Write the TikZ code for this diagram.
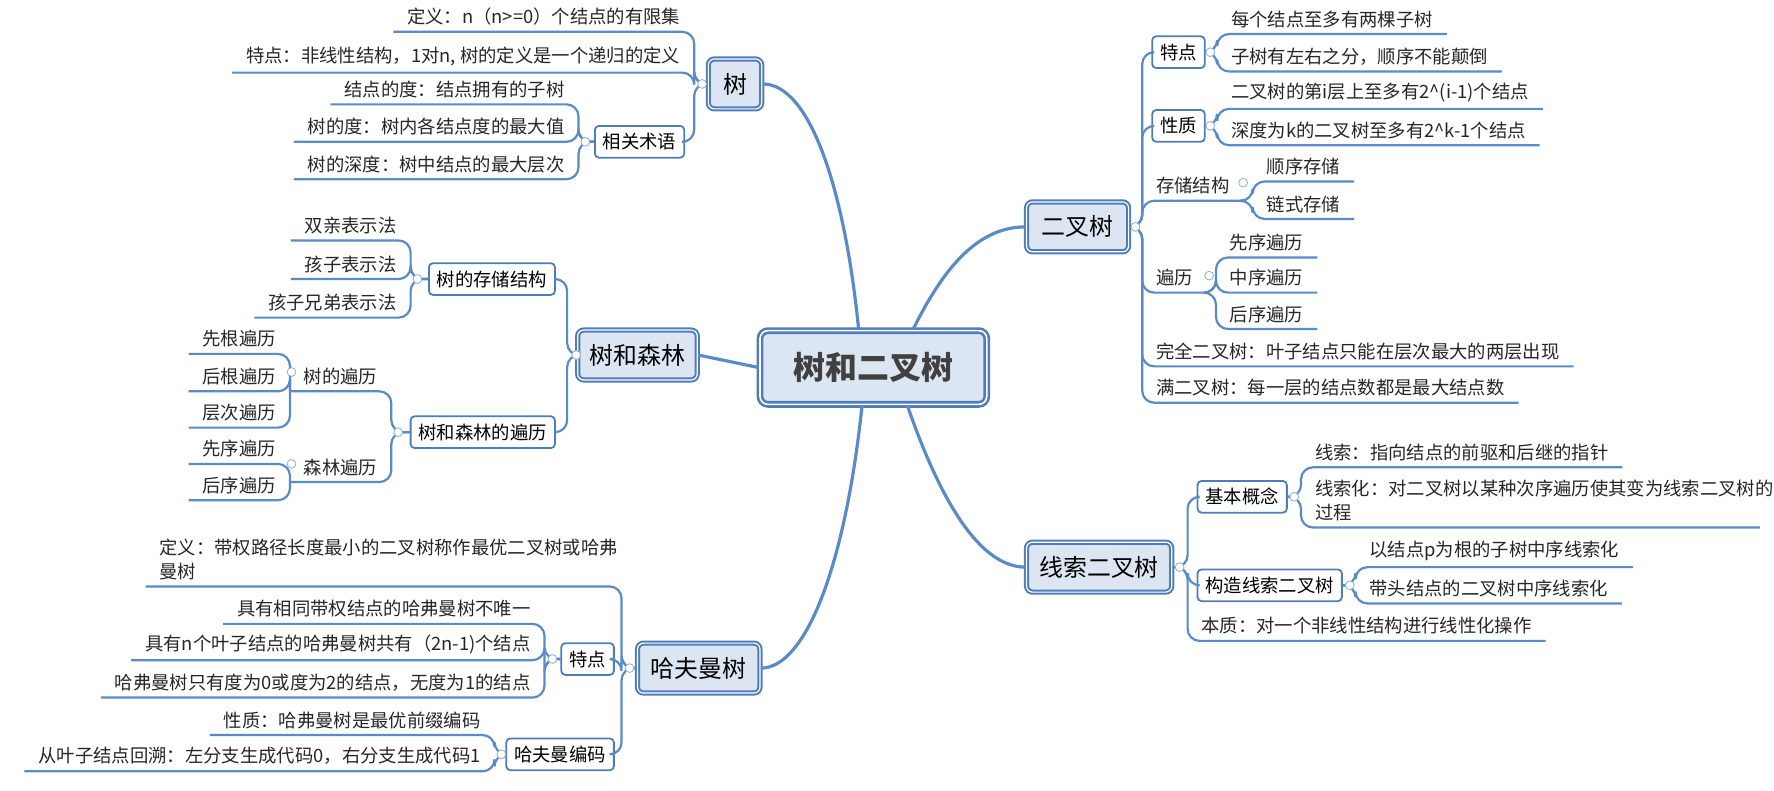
\documentclass[tikz,border=0pt]{standalone}
\usepackage{fontspec}
\setmainfont{Noto Sans CJK SC}
\usetikzlibrary{calc}
\definecolor{linecol}{HTML}{5B8BC6}
\definecolor{boxfill}{HTML}{DCE6F2}
\definecolor{boxline}{HTML}{4F7DBA}
\tikzstyle{rootbox} = [rectangle,
rounded corners=4pt,
draw=boxline, line width=1.3pt,
double=white, double distance=0.8pt,
fill=boxfill,
minimum width=4cm,
minimum height=1.3cm,
font=\fontsize{16}{19}\selectfont\bfseries,
text=black!75]
\tikzstyle{topicbox} = [rectangle,
rounded corners=3pt,
draw=boxline, line width=1pt,
double=white, double distance=0.6pt,
fill=boxfill,
minimum height=0.88cm,
inner xsep=6pt,
font=\fontsize{12}{14}\selectfont]
\tikzstyle{subbox} = [rectangle,
rounded corners=2pt,
draw=boxline, line width=0.9pt,
fill=white,
minimum height=0.56cm,
inner xsep=4pt,
font=\fontsize{9.2}{11}\selectfont]
\tikzstyle{leafnode} = [inner xsep=0.24cm, inner ysep=3pt,
font=\fontsize{9.2}{12}\selectfont, text=black!85]
\tikzstyle{link} = [draw=linecol, line width=1.1pt, rounded corners=6pt]
\tikzstyle{trunk} = [draw=linecol, line width=1.6pt]
\tikzstyle{foldmark} = [draw=linecol!70, fill=white, line width=0.4pt]

\begin{document}
\begin{tikzpicture}[x=0.02cm, y=-0.02cm]
\useasboundingbox (0,0) rectangle (1564,697);

\node (root) [rootbox] at (770,324) {树和二叉树};

\node (tree) [topicbox, minimum width=0.94cm] at (648,74) {树};
\node (forest) [topicbox, minimum width=1.9cm] at (562,313) {树和森林};
\node (huff) [topicbox, minimum width=2.16cm] at (616,589) {哈夫曼树};
\node (bt) [topicbox, minimum width=1.8cm] at (950,200) {二叉树};
\node (thr) [topicbox, minimum width=2.56cm] at (969,500) {线索二叉树};

\draw [trunk] ($(root.north)+(-13,0)$) .. controls (745,170) and (715,74) .. (tree.east);
\draw [trunk] (root.west) -- (forest.east);
\draw [trunk] ($(root.south)+(-10,0)$) .. controls (745,500) and (710,589) .. (huff.east);
\draw [trunk] ($(root.north)+(35,0)$) .. controls (830,240) and (860,200) .. (bt.west);
\draw [trunk] ($(root.south)+(30,0)$) .. controls (825,430) and (860,500) .. (thr.west);

% 树
\node (t_def) [leafnode, anchor=south east] at (612,28) {定义：n（n>=0）个结点的有限集};
\node (t_feat) [leafnode, anchor=south east] at (612,64) {特点：非线性结构，1对n, 树的定义是一个递归的定义};
\node (t_term) [subbox, anchor=east] at (604,125) {相关术语};
\node (t_deg) [leafnode, anchor=south east] at (510,92) {结点的度：结点拥有的子树};
\node (t_tdeg) [leafnode, anchor=south east] at (510,125) {树的度：树内各结点度的最大值};
\node (t_depth) [leafnode, anchor=south east] at (510,158) {树的深度：树中结点的最大层次};
\draw [link] (tree.west) -| (t_def.south east) -- (t_def.south west);
\draw [link] (tree.west) -| (t_feat.south east) -- (t_feat.south west);
\draw [link] (tree.west) -| ($(t_term.east)+(8,0)$) -- (t_term.east);
\foreach \n in {t_deg, t_tdeg, t_depth}
  \draw [link] (t_term.west) -| (\n.south east) -- (\n.south west);

% 树和森林
\node (f_store) [subbox, anchor=east] at (490,246) {树的存储结构};
\node (f_par) [leafnode, anchor=south east] at (362,212) {双亲表示法};
\node (f_child) [leafnode, anchor=south east] at (362,246) {孩子表示法};
\node (f_sib) [leafnode, anchor=south east] at (362,280) {孩子兄弟表示法};
\draw [link] (forest.west) -| ($(f_store.east)+(10,0)$) -- (f_store.east);
\foreach \n in {f_par, f_child, f_sib}
  \draw [link] (f_store.west) -| (\n.south east) -- (\n.south west);

\node (f_trav) [subbox, anchor=east] at (490,381) {树和森林的遍历};
\node (f_ttrav) [leafnode, anchor=south east] at (345,345) {树的遍历};
\node (f_ftrav) [leafnode, anchor=south east] at (345,425) {森林遍历};
\draw [link] (forest.west) -| ($(f_trav.east)+(10,0)$) -- (f_trav.east);
\foreach \n in {f_ttrav, f_ftrav}
  \draw [link] (f_trav.west) -| (\n.south east) -- (\n.south west);
\node (f_pre) [leafnode, anchor=south east] at (f_ttrav.south west |- 0,312) {先根遍历};
\node (f_post) [leafnode, anchor=south east] at (f_ttrav.south west |- 0,345) {后根遍历};
\node (f_lvl) [leafnode, anchor=south east] at (f_ttrav.south west |- 0,377) {层次遍历};
\foreach \n in {f_pre, f_post, f_lvl}
  \draw [link] (f_ttrav.south west) |- (\n.south west);
\node (f_fpre) [leafnode, anchor=south east] at (f_ftrav.south west |- 0,409) {先序遍历};
\node (f_fpost) [leafnode, anchor=south east] at (f_ftrav.south west |- 0,441) {后序遍历};
\foreach \n in {f_fpre, f_fpost}
  \draw [link] (f_ftrav.south west) |- (\n.south west);

% 哈夫曼树
\node (h_def) [leafnode, anchor=south east, text width=7.9cm, align=left] at (548,517) {定义：带权路径长度最小的二叉树称作最优二叉树或哈弗\\曼树};
\node (h_feat) [subbox, anchor=east] at (542,581) {特点};
\node (h_uniq) [leafnode, anchor=south east] at (480,550) {具有相同带权结点的哈弗曼树不唯一};
\node (h_num) [leafnode, anchor=south east] at (480,582) {具有n个叶子结点的哈弗曼树共有（2n-1)个结点};
\node (h_deg) [leafnode, anchor=south east] at (480,615) {哈弗曼树只有度为0或度为2的结点，无度为1的结点};
\node (h_code) [subbox, anchor=east] at (542,665) {哈夫曼编码};
\node (h_prop) [leafnode, anchor=south east] at (436,648) {性质：哈弗曼树是最优前缀编码};
\node (h_back) [leafnode, anchor=south east] at (436,680) {从叶子结点回溯：左分支生成代码0，右分支生成代码1};
\draw [link] (huff.west) -| (h_def.south east) -- (h_def.south west);
\draw [link] (huff.west) -| ($(h_feat.east)+(6,0)$) -- (h_feat.east);
\draw [link] (huff.west) -| ($(h_code.east)+(6,0)$) -- (h_code.east);
\foreach \n in {h_uniq, h_num, h_deg}
  \draw [link] (h_feat.west) -| (\n.south east) -- (\n.south west);
\foreach \n in {h_prop, h_back}
  \draw [link] (h_code.west) -| (\n.south east) -- (\n.south west);

% 二叉树
\node (b_feat) [subbox, anchor=west] at (1015,46) {特点};
\node (b_two) [leafnode, anchor=south west] at (1073,30) {每个结点至多有两棵子树};
\node (b_ord) [leafnode, anchor=south west] at (1073,63) {子树有左右之分，顺序不能颠倒};
\node (b_prop) [subbox, anchor=west] at (1015,111) {性质};
\node (b_lvl) [leafnode, anchor=south west] at (1073,96) {二叉树的第i层上至多有2\^{}(i-1)个结点};
\node (b_dep) [leafnode, anchor=south west] at (1073,128) {深度为k的二叉树至多有2\^{}k-1个结点};
\node (b_store) [leafnode, anchor=south west] at (1007,177) {存储结构};
\node (b_seq) [leafnode, anchor=south west] at ($(b_store.south east |- 0,160)+(8,0)$) {顺序存储};
\node (b_lnk) [leafnode, anchor=south west] at ($(b_store.south east |- 0,193)+(8,0)$) {链式存储};
\node (b_trav) [leafnode, anchor=south west] at (1007,258) {遍历};
\node (b_pre) [leafnode, anchor=south west] at ($(b_trav.south east |- 0,227)+(8,0)$) {先序遍历};
\node (b_in) [leafnode, anchor=south west] at ($(b_trav.south east |- 0,258)+(8,0)$) {中序遍历};
\node (b_post) [leafnode, anchor=south west] at ($(b_trav.south east |- 0,290)+(8,0)$) {后序遍历};
\node (b_full) [leafnode, anchor=south west] at (1007,323) {完全二叉树：叶子结点只能在层次最大的两层出现};
\node (b_perf) [leafnode, anchor=south west] at (1007,355) {满二叉树：每一层的结点数都是最大结点数};
\draw [link] (bt.east) -| ($(b_feat.west)+(-8,0)$) -- (b_feat.west);
\draw [link] (bt.east) -| ($(b_prop.west)+(-8,0)$) -- (b_prop.west);
\foreach \n in {b_store, b_trav, b_full, b_perf}
  \draw [link] (bt.east) -| (\n.south west) -- (\n.south east);
\foreach \n in {b_two, b_ord}
  \draw [link] (b_feat.east) -| (\n.south west) -- (\n.south east);
\foreach \n in {b_lvl, b_dep}
  \draw [link] (b_prop.east) -| (\n.south west) -- (\n.south east);
\foreach \n in {b_seq, b_lnk}
  \draw [link] (b_store.south east) -| (\n.south west) -- (\n.south east);
\foreach \n in {b_pre, b_in, b_post}
  \draw [link] (b_trav.south east) -| (\n.south west) -- (\n.south east);

% 线索二叉树
\node (r_basic) [subbox, anchor=west] at (1055,438) {基本概念};
\node (r_clue) [leafnode, anchor=south west] at (1147,412) {线索：指向结点的前驱和后继的指针};
\node (r_ize) [leafnode, anchor=south west, text width=7.6cm, align=left] at (1147,465) {线索化：对二叉树以某种次序遍历使其变为线索二叉树的\\过程};
\node (r_build) [subbox, anchor=west] at (1055,516) {构造线索二叉树};
\node (r_sub) [leafnode, anchor=south west] at (1195,500) {以结点p为根的子树中序线索化};
\node (r_head) [leafnode, anchor=south west] at (1195,532) {带头结点的二叉树中序线索化};
\node (r_core) [leafnode, anchor=south west] at (1047,565) {本质：对一个非线性结构进行线性化操作};
\draw [link] (thr.east) -| ($(r_basic.west)+(-8,0)$) -- (r_basic.west);
\draw [link] (thr.east) -| ($(r_build.west)+(-8,0)$) -- (r_build.west);
\draw [link] (thr.east) -| (r_core.south west) -- (r_core.south east);
\foreach \n in {r_clue, r_ize}
  \draw [link] (r_basic.east) -| (\n.south west) -- (\n.south east);
\foreach \n in {r_sub, r_head}
  \draw [link] (r_build.east) -| (\n.south west) -- (\n.south east);

% fold marks
\foreach \p in {(619,74), (516,125), (508,313), (368,246), (351,381), (257,328), (257,409),
  (555,589), (487,581), (442,665), (1001,200), (1067,46), (1067,111), (1096,161),
  (1066,243), (1040,500), (1141,438), (1190,516)}
  \draw [foldmark] \p circle (2.2pt);

\end{tikzpicture}
\end{document}
